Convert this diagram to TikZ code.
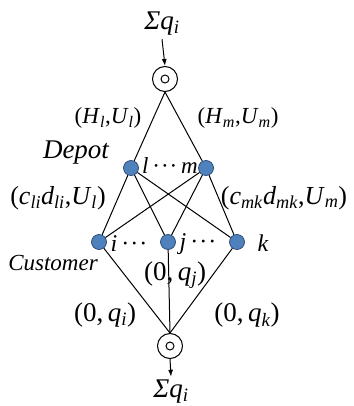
\documentclass[tikz,border=0pt]{standalone}
\usepackage{fontspec}
\setmainfont{Liberation Serif}
\usepackage{tikz}
\usetikzlibrary{arrows.meta}
\definecolor{sitefill}{RGB}{79,129,189}
\definecolor{siteline}{RGB}{40,70,115}
\newcommand{\fsz}[1]{\fontsize{#1}{#1}\selectfont}
\newcommand{\ix}[2]{\textit{#1}\textsubscript{\textit{#2}}}
\newcommand{\dotsmid}{\,·\kern1pt·\kern1pt·\,}
\tikzset{
  site/.style={circle,fill=sitefill,draw=siteline,line width=0.7pt,minimum size=15pt,inner sep=0pt},
  terminal/.style={circle,draw,line width=1pt,minimum size=25pt,inner sep=0pt},
  hole/.style={circle,draw,line width=1pt,minimum size=8pt,inner sep=0pt},
  arc/.style={line width=1pt},
  flow/.style={line width=1pt,-{Latex[length=7pt,width=5pt]}}
}
\begin{document}
\begin{tikzpicture}[x=1pt,y=-1pt]
  \useasboundingbox (0,0) rectangle (353,406);
  % source and sink
  \node[terminal] (src) at (165,79) {};
  \node[hole] (srcdot) at (src) {};
  \node[terminal] (snk) at (170,346) {};
  \node[hole] (snkdot) at (snk) {};
  \node[font=\fsz{27}] (qin) at (162,24) {\ix{Σq}{i}};
  \node[font=\fsz{27}] (qout) at (171,392) {\ix{Σq}{i}};
  \draw[flow] (qin.south) -- (src.north);
  \draw[flow] (snk.south) -- (qout.north);
  % depots and customers
  \node[site] (dl) at (131,168) {};
  \node[site] (dm) at (206,168) {};
  \node[site] (ci) at (99,242) {};
  \node[site] (cj) at (168,242) {};
  \node[site] (ck) at (237,242) {};
  \foreach \d in {dl,dm} \draw[arc] (src.south) -- (\d);
  \foreach \d in {dl,dm}
    \foreach \c in {ci,cj,ck} \draw[arc] (\d) -- (\c);
  \foreach \c in {ci,cj,ck} \draw[arc] (\c) -- (snk.north);
  % labels
  \node[font=\fsz{23}] (hl) at (108,118) {(\ix{H}{l},\ix{U}{l})};
  \node[font=\fsz{23}] (hm) at (238,118) {(\ix{H}{m},\ix{U}{m})};
  \node[font=\fsz{27}\itshape] (depot) at (76,153) {Depot};
  \node[font=\fsz{23}] (lm) at (170,166) {\textit{l}\dotsmid\textit{m}};
  \node[font=\fsz{26}] (cl) at (58,198) {(\ix{c}{li}\ix{d}{li},\ix{U}{l})};
  \node[font=\fsz{26}] (cm) at (284,198) {(\ix{c}{mk}\ix{d}{mk},\ix{U}{m})};
  \node[font=\fsz{24}] (li) at (131,244) {\textit{i}\dotsmid};
  \node[font=\fsz{24}] (lj) at (200,244) {\textit{j}\dotsmid};
  \node[font=\fsz{24}] (lk) at (263,243) {\textit{k}};
  \node[font=\fsz{23}\itshape] (cust) at (53,263) {Customer};
  \node[font=\fsz{27}] (qj) at (175,275) {(0,\,\ix{q}{j})};
  \node[font=\fsz{27}] (qi) at (105,315) {(0,\,\ix{q}{i})};
  \node[font=\fsz{27}] (qk) at (247,315) {(0,\,\ix{q}{k})};
\end{tikzpicture}
\end{document}
